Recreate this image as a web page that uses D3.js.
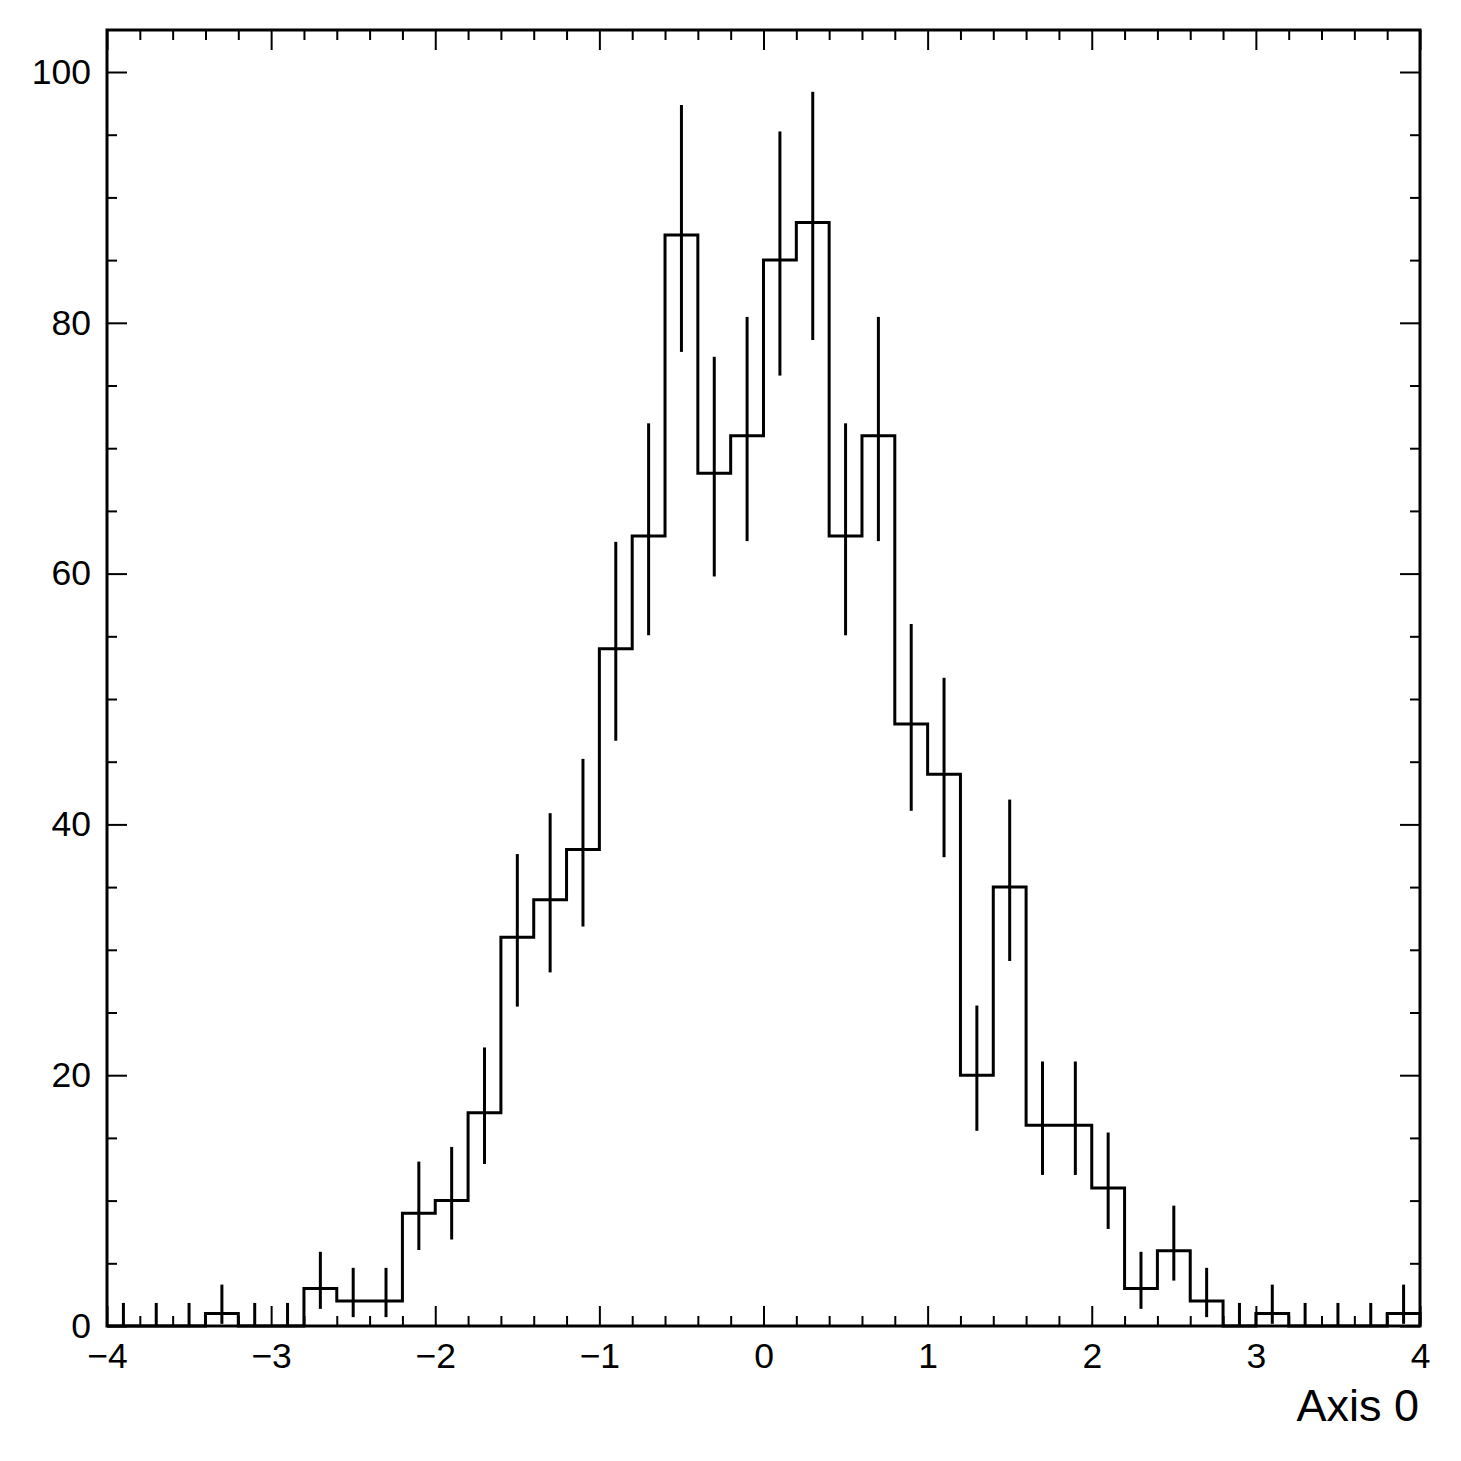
<!DOCTYPE html>
<html>
<head>
<meta charset="utf-8">
<script src="https://cdn.jsdelivr.net/npm/d3@7"></script>
<style>
  html, body { margin: 0; padding: 0; background: #fff; }
  svg { display: block; }
  text { font-family: "Liberation Sans", Arial, Helvetica, sans-serif; }
</style>
</head>
<body>
<svg id="chart" width="1461" height="1461"></svg>
<script>
// ---- data ----
const binEdgesRange = [-4, 4];
const binWidth = 0.2;
const counts = [0,0,0,1,0,0,3,2,2,9,10,17,31,34,38,54,63,87,68,71,85,88,63,71,48,44,20,35,16,16,11,3,6,2,0,1,0,0,0,1];
const errLow = [0,0,0,0.827,0,0,1.633,1.292,1.292,2.940,3.103,4.081,5.529,5.802,6.145,7.330,7.920,9.320,8.230,8.410,9.210,9.370,7.920,8.410,6.912,6.616,4.434,5.890,3.954,3.954,3.262,1.633,2.379,1.292,0,0.827,0,0,0,0.827];
const errHigh = [1.841,1.841,1.841,2.300,1.841,1.841,2.918,2.638,2.638,4.110,4.279,5.213,6.635,6.895,7.225,8.533,8.984,10.367,9.292,9.470,10.260,10.421,8.984,9.470,7.982,7.690,5.555,6.979,5.093,5.093,4.428,2.918,3.598,2.638,1.841,2.300,1.841,1.841,1.841,2.300];
const xMajorTicks = [-4,-3,-2,-1,0,1,2,3,4];
const yMajorTicks = [0,20,40,60,80,100];
const yMax = 103.35;
const xTitle = "Axis 0";

// ---- layout ----
const L = 107, R = 1420, T = 30, B = 1326;
const svg = d3.select("#chart");
const x = d3.scaleLinear().domain(binEdgesRange).range([L, R]);
const y = d3.scaleLinear().domain([0, yMax]).range([B, T]);

const fmt = d => (d < 0 ? "\u2212" + Math.abs(d) : String(d));
const xMinor = d3.range(-4, 4.0001, binWidth).map(v => +v.toFixed(2)).filter(v => !xMajorTicks.includes(Math.round(v*100)/100));
const yMinor = d3.range(0, yMax, 5).filter(v => v % 20 !== 0);

function styleAxis(g) {
  g.select(".domain").remove();
  g.selectAll("line").attr("stroke", "#000").attr("stroke-width", 2);
  g.selectAll("text").attr("font-size", 35.5).attr("fill", "#000");
}

// bottom axis
svg.append("g").attr("transform", `translate(0,${B})`)
  .call(d3.axisBottom(x).tickValues(xMajorTicks).tickFormat(fmt).tickSize(-20).tickPadding(17))
  .call(styleAxis);
svg.append("g").attr("transform", `translate(0,${B})`)
  .call(d3.axisBottom(x).tickValues(xMinor).tickFormat("").tickSize(-10))
  .call(styleAxis);
// top axis
svg.append("g").attr("transform", `translate(0,${T})`)
  .call(d3.axisTop(x).tickValues(xMajorTicks).tickFormat("").tickSize(-20))
  .call(styleAxis);
svg.append("g").attr("transform", `translate(0,${T})`)
  .call(d3.axisTop(x).tickValues(xMinor).tickFormat("").tickSize(-10))
  .call(styleAxis);
// left axis
svg.append("g").attr("transform", `translate(${L},0)`)
  .call(d3.axisLeft(y).tickValues(yMajorTicks).tickFormat(fmt).tickSize(-20).tickPadding(16))
  .call(styleAxis);
svg.append("g").attr("transform", `translate(${L},0)`)
  .call(d3.axisLeft(y).tickValues(yMinor).tickFormat("").tickSize(-10))
  .call(styleAxis);
// right axis
svg.append("g").attr("transform", `translate(${R},0)`)
  .call(d3.axisRight(y).tickValues(yMajorTicks).tickFormat("").tickSize(-20))
  .call(styleAxis);
svg.append("g").attr("transform", `translate(${R},0)`)
  .call(d3.axisRight(y).tickValues(yMinor).tickFormat("").tickSize(-10))
  .call(styleAxis);

// histogram step line
const bins = counts.map((c, i) => ({
  lo: binEdgesRange[0] + i * binWidth,
  hi: binEdgesRange[0] + (i + 1) * binWidth,
  c, el: errLow[i], eh: errHigh[i]
}));
const pts = [[binEdgesRange[0], 0]];
bins.forEach(b => { pts.push([b.lo, b.c]); pts.push([b.hi, b.c]); });
pts.push([binEdgesRange[1], 0]);
svg.append("path")
  .attr("d", d3.line().x(d => x(d[0])).y(d => y(d[1]))(pts))
  .attr("fill", "none").attr("stroke", "#000").attr("stroke-width", 3)
  .attr("stroke-linejoin", "miter");

// error bars
svg.append("g").selectAll("line").data(bins).join("line")
  .attr("x1", d => x((d.lo + d.hi) / 2)).attr("x2", d => x((d.lo + d.hi) / 2))
  .attr("y1", d => y(Math.max(0, d.c - d.el))).attr("y2", d => y(d.c + d.eh))
  .attr("stroke", "#000").attr("stroke-width", 3);

// frame
svg.append("rect").attr("x", L).attr("y", T).attr("width", R - L).attr("height", B - T)
  .attr("fill", "none").attr("stroke", "#000").attr("stroke-width", 3);

// axis title
svg.append("text").attr("x", R - 1).attr("y", 1421).attr("text-anchor", "end")
  .attr("font-size", 45).attr("fill", "#000").text(xTitle);
</script>
</body>
</html>
